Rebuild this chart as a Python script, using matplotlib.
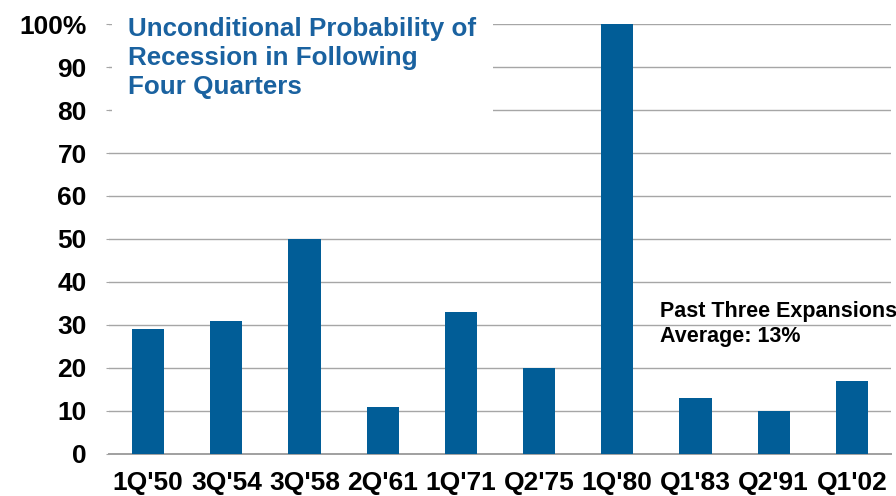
import matplotlib.pyplot as plt
from matplotlib.patches import Rectangle

plt.rcParams['font.family'] = ['Liberation Sans', 'DejaVu Sans']

# recession start quarters and probability of recession in the next four quarters (%)
quarters = ["1Q'50", "3Q'54", "3Q'58", "2Q'61", "1Q'71", "Q2'75", "1Q'80", "Q1'83", "Q2'91", "Q1'02"]
probability = [29, 31, 50, 11, 33, 20, 100, 13, 10, 17]
y_ticks = [0, 10, 20, 30, 40, 50, 60, 70, 80, 90, 100]
y_tick_labels = ['0', '10', '20', '30', '40', '50', '60', '70', '80', '90', '100%']

bar_color = '#015d97'
title_color = '#1a62a0'

fig = plt.figure(figsize=(8.96, 4.96), dpi=100)
ax = fig.add_axes([0.1217, 0.0847, 0.8727, 0.8669])

x = range(len(quarters))
ax.bar(x, probability, width=0.41, color=bar_color, zorder=3)

ax.set_xlim(-0.5, len(quarters) - 0.5)
ax.set_ylim(0, 100)
ax.set_yticks(y_ticks)
ax.set_yticklabels(y_tick_labels, fontsize=19, fontweight='bold')
ax.set_xticks(list(x))
ax.set_xticklabels(quarters, fontsize=19, fontweight='bold')

ax.grid(axis='y', color='#a6a6a6', linewidth=1.0, zorder=0)
ax.set_axisbelow(True)
for s in ['top', 'right', 'left']:
    ax.spines[s].set_visible(False)
ax.spines['bottom'].set_color('#a0a0a0')
ax.spines['bottom'].set_linewidth(1.4)
ax.tick_params(axis='y', length=2, color='#a6a6a6', pad=14)
ax.tick_params(axis='x', length=0, pad=12)

# white panel behind the title hides the upper gridlines
ax.add_patch(Rectangle((0.1245, 0.74), 0.4255, 0.26, transform=fig.transFigure,
                       facecolor='white', edgecolor='none', clip_on=False, zorder=4))
fig.text(0.143, 1 - 58 / 496, 'Unconditional Probability of\nRecession in Following\nFour Quarters',
         color=title_color, fontsize=18.7, fontweight='bold', va='center', ha='left',
         linespacing=1.25, zorder=5)

ax.text(6.54, 30.2, 'Past Three Expansions\nAverage: 13%', fontsize=15.5,
        fontweight='bold', va='center', ha='left', linespacing=1.25, zorder=4)

fig.savefig('out.png', dpi=100)
